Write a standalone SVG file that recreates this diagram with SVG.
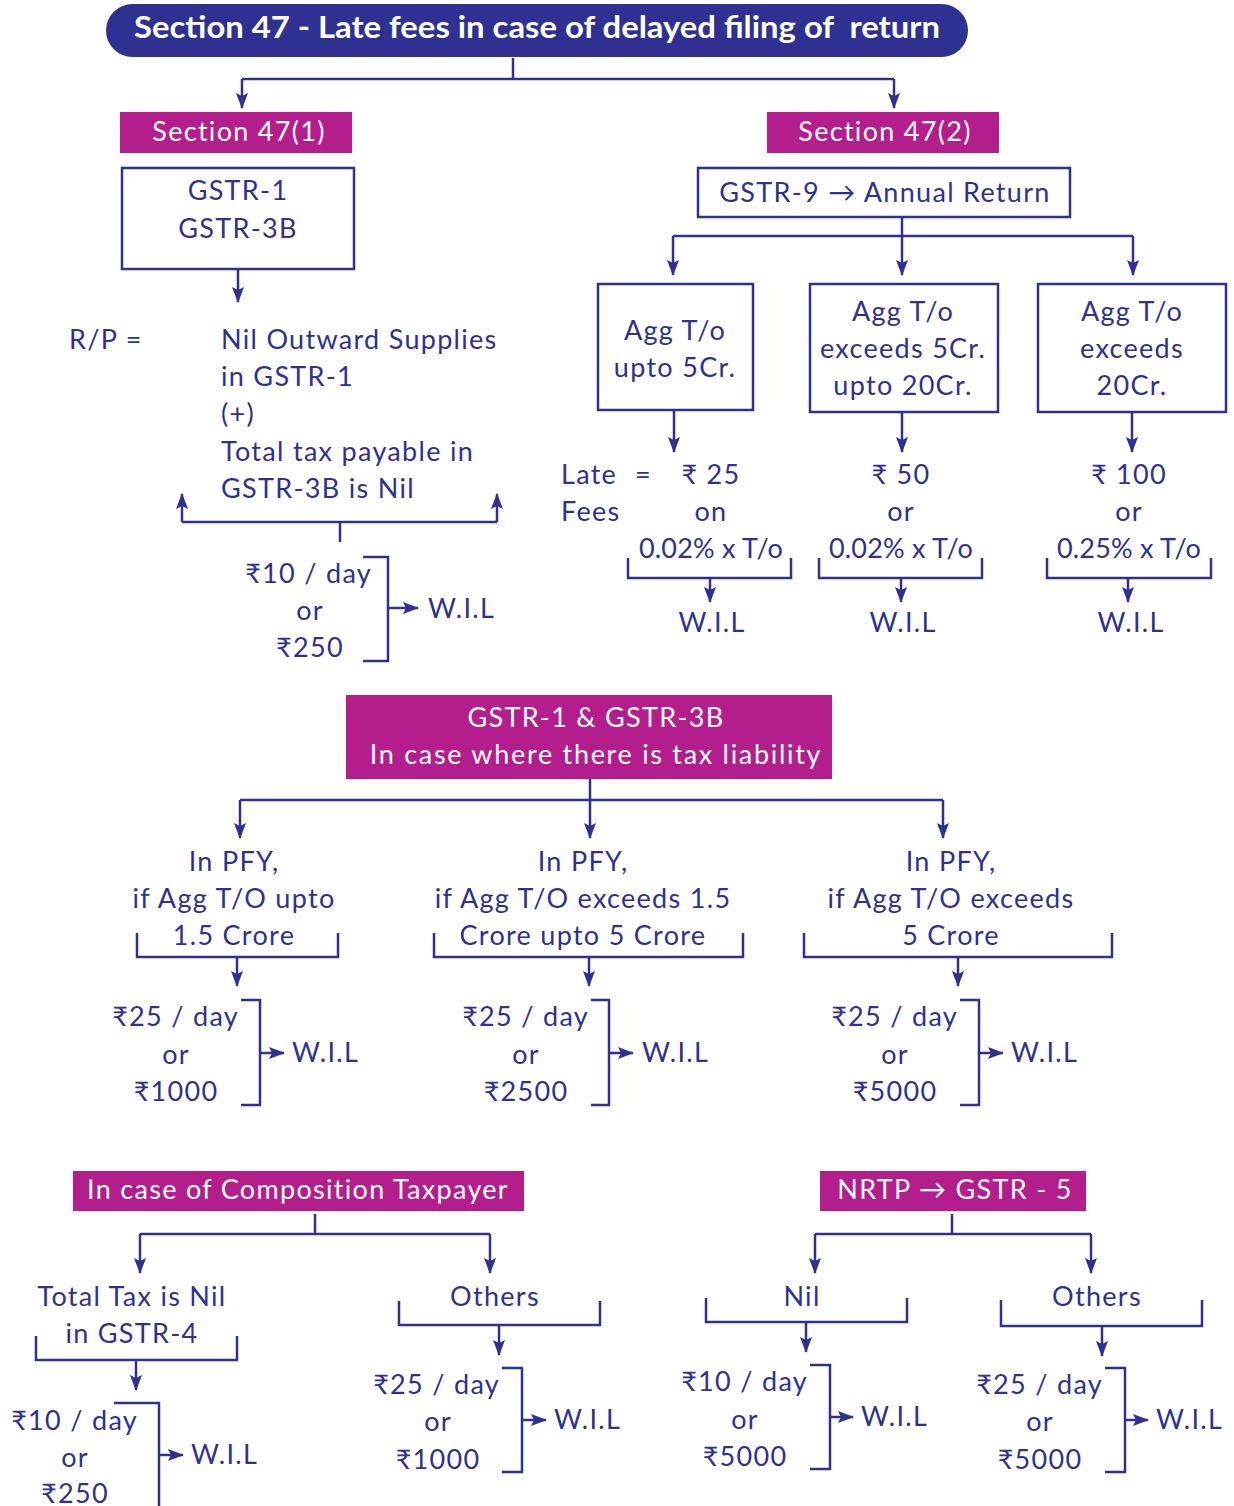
<svg xmlns="http://www.w3.org/2000/svg" width="1234" height="1506" viewBox="0 0 1234 1506">
  <defs>
    <style>
      .t { font-family: Lato, "Liberation Sans", "DejaVu Sans", sans-serif; font-size: 27px; fill: #2E3192; letter-spacing: 1.3px; }
      .w { font-family: Lato, "Liberation Sans", "DejaVu Sans", sans-serif; font-size: 27px; fill: #ffffff; letter-spacing: 1.3px; }
      .title { font-family: Lato, "Liberation Sans", "DejaVu Sans", sans-serif; font-size: 30px; font-weight: bold; fill: #ffffff; }
      .pct { letter-spacing: 0.2px; }
      .c { text-anchor: middle; }
      .r { text-anchor: end; }
      .box { fill: #ffffff; stroke: #2E3192; stroke-width: 2.5; }
      .mag { fill: #B41E8C; }
      .ln { fill: none; stroke: #2E3192; stroke-width: 2.5; }
      .ar { fill: none; stroke: #2E3192; stroke-width: 2.5; marker-end: url(#head); }
    </style>
    <marker id="head" markerUnits="userSpaceOnUse" markerWidth="16" markerHeight="12" viewBox="0 0 16 12" refX="15" refY="6" orient="auto">
      <path d="M0,0 L16,6 L0,12 L3,6 z" fill="#2E3192"/>
    </marker>
  </defs>

  <!-- Title -->
  <g id="title">
    <rect x="106" y="4" width="862" height="53" rx="26.5" fill="#2E3192"/>
    <text class="title c" x="537" y="38" textLength="806" lengthAdjust="spacingAndGlyphs" xml:space="preserve">Section 47 - Late fees in case of delayed filing of  return</text>
  </g>

  <!-- Section 47(1) -->
  <g id="sec47-1">
    <rect class="mag" x="120" y="112" width="232" height="41"/>
    <text class="w c" x="239" y="141">Section 47(1)</text>
  </g>
  <g id="gstr1-3b">
    <rect class="box" x="122" y="168" width="232" height="101"/>
    <text class="t c" x="238" y="200">GSTR-1</text>
    <text class="t c" x="238" y="238">GSTR-3B</text>
  </g>
  <g id="rp">
    <text class="t" x="69" y="349">R/P =</text>
    <text class="t" x="221" y="349">Nil Outward Supplies</text>
    <text class="t" x="221" y="386">in GSTR-1</text>
    <text class="t" x="221" y="423">(+)</text>
    <text class="t" x="221" y="461">Total tax payable in</text>
    <text class="t" x="221" y="498">GSTR-3B is Nil</text>
  </g>
  <g id="fee-47-1">
    <text class="t r" x="372" y="583">₹10 / day</text>
    <text class="t c" x="310" y="620">or</text>
    <text class="t c" x="310" y="657">₹250</text>
    <text class="t" x="428" y="618">W.I.L</text>
  </g>

  <!-- Section 47(2) -->
  <g id="sec47-2">
    <rect class="mag" x="767" y="112" width="232" height="41"/>
    <text class="w c" x="885" y="141">Section 47(2)</text>
  </g>
  <g id="gstr9">
    <rect class="box" x="698" y="168" width="372" height="49"/>
    <text class="t c" x="885" y="202">GSTR-9 → Annual Return</text>
  </g>
  <g id="agg-upto-5">
    <rect class="box" x="598" y="284" width="155" height="126"/>
    <text class="t c" x="675" y="340">Agg T/o</text>
    <text class="t c" x="675" y="377">upto 5Cr.</text>
  </g>
  <g id="agg-5-20">
    <rect class="box" x="810" y="284" width="188" height="128"/>
    <text class="t c" x="903" y="321">Agg T/o</text>
    <text class="t c" x="903" y="358">exceeds 5Cr.</text>
    <text class="t c" x="903" y="395">upto 20Cr.</text>
  </g>
  <g id="agg-20">
    <rect class="box" x="1038" y="284" width="188" height="128"/>
    <text class="t c" x="1132" y="321">Agg T/o</text>
    <text class="t c" x="1132" y="358">exceeds</text>
    <text class="t c" x="1132" y="395">20Cr.</text>
  </g>
  <g id="late-fees">
    <text class="t" x="561" y="484">Late</text>
    <text class="t" x="635" y="484">=</text>
    <text class="t" x="561" y="521">Fees</text>
  </g>
  <g id="fee-9a">
    <text class="t c" x="711" y="484">₹ 25</text>
    <text class="t c" x="711" y="521">on</text>
    <text class="t c pct" x="711" y="558">0.02% x T/o</text>
    <text class="t c" x="712" y="632">W.I.L</text>
  </g>
  <g id="fee-9b">
    <text class="t c" x="901" y="484">₹ 50</text>
    <text class="t c" x="901" y="521">or</text>
    <text class="t c pct" x="901" y="558">0.02% x T/o</text>
    <text class="t c" x="903" y="632">W.I.L</text>
  </g>
  <g id="fee-9c">
    <text class="t c" x="1129" y="484">₹ 100</text>
    <text class="t c" x="1129" y="521">or</text>
    <text class="t c pct" x="1129" y="558">0.25% x T/o</text>
    <text class="t c" x="1131" y="632">W.I.L</text>
  </g>

  <!-- Tax liability -->
  <g id="tax-liability">
    <rect class="mag" x="346" y="695" width="486" height="84"/>
    <text class="w c" x="596" y="727">GSTR-1 &amp; GSTR-3B</text>
    <text class="w c" x="596" y="764" style="letter-spacing:1.7px">In case where there is tax liability</text>
  </g>
  <g id="pfy-1">
    <text class="t c" x="234" y="871">In PFY,</text>
    <text class="t c" x="234" y="908">if Agg T/O upto</text>
    <text class="t c" x="234" y="945">1.5 Crore</text>
  </g>
  <g id="pfy-2">
    <text class="t c" x="583" y="871">In PFY,</text>
    <text class="t c" x="583" y="908">if Agg T/O exceeds 1.5</text>
    <text class="t c" x="583" y="945">Crore upto 5 Crore</text>
  </g>
  <g id="pfy-3">
    <text class="t c" x="951" y="871">In PFY,</text>
    <text class="t c" x="951" y="908">if Agg T/O exceeds</text>
    <text class="t c" x="951" y="945">5 Crore</text>
  </g>
  <g id="fee-pfy-1">
    <text class="t r" x="239" y="1026">₹25 / day</text>
    <text class="t c" x="176" y="1064">or</text>
    <text class="t c" x="176" y="1101">₹1000</text>
    <text class="t" x="292" y="1062">W.I.L</text>
  </g>
  <g id="fee-pfy-2">
    <text class="t r" x="589" y="1026">₹25 / day</text>
    <text class="t c" x="526" y="1064">or</text>
    <text class="t c" x="526" y="1101">₹2500</text>
    <text class="t" x="642" y="1062">W.I.L</text>
  </g>
  <g id="fee-pfy-3">
    <text class="t r" x="958" y="1026">₹25 / day</text>
    <text class="t c" x="895" y="1064">or</text>
    <text class="t c" x="895" y="1101">₹5000</text>
    <text class="t" x="1011" y="1062">W.I.L</text>
  </g>

  <!-- Composition taxpayer -->
  <g id="composition">
    <rect class="mag" x="73" y="1171" width="451" height="40"/>
    <text class="w c" x="298" y="1199">In case of Composition Taxpayer</text>
  </g>
  <g id="comp-nil">
    <text class="t c" x="132" y="1306">Total Tax is Nil</text>
    <text class="t c" x="132" y="1343">in GSTR-4</text>
  </g>
  <g id="comp-nil-fee">
    <text class="t r" x="138" y="1430">₹10 / day</text>
    <text class="t c" x="75" y="1467">or</text>
    <text class="t c" x="75" y="1503">₹250</text>
    <text class="t" x="191" y="1464">W.I.L</text>
  </g>
  <g id="comp-others">
    <text class="t c" x="495" y="1306">Others</text>
  </g>
  <g id="comp-others-fee">
    <text class="t r" x="500" y="1394">₹25 / day</text>
    <text class="t c" x="438" y="1431">or</text>
    <text class="t c" x="438" y="1469">₹1000</text>
    <text class="t" x="554" y="1429">W.I.L</text>
  </g>

  <!-- NRTP -->
  <g id="nrtp">
    <rect class="mag" x="820" y="1171" width="266" height="40"/>
    <text class="w c" x="955" y="1199">NRTP → GSTR - 5</text>
  </g>
  <g id="nrtp-nil">
    <text class="t c" x="802" y="1306">Nil</text>
  </g>
  <g id="nrtp-nil-fee">
    <text class="t r" x="808" y="1391">₹10 / day</text>
    <text class="t c" x="745" y="1429">or</text>
    <text class="t c" x="745" y="1466">₹5000</text>
    <text class="t" x="861" y="1426">W.I.L</text>
  </g>
  <g id="nrtp-others">
    <text class="t c" x="1097" y="1306">Others</text>
  </g>
  <g id="nrtp-others-fee">
    <text class="t r" x="1103" y="1394">₹25 / day</text>
    <text class="t c" x="1040" y="1431">or</text>
    <text class="t c" x="1040" y="1469">₹5000</text>
    <text class="t" x="1156" y="1429">W.I.L</text>
  </g>

  <!-- Connectors -->
  <g id="connectors">
    <!-- title split -->
    <path class="ln" d="M513,58 V79 M242,79 H894"/>
    <path class="ar" d="M242,79 V108"/>
    <path class="ar" d="M894,79 V108"/>

    <!-- 47(1) -->
    <path class="ar" d="M238,269 V302"/>
    <path class="ln" d="M182,522 H497 M340,522 V542"/>
    <path class="ar" d="M182,522 V494"/>
    <path class="ar" d="M497,522 V494"/>
    <path class="ln" d="M363,557 H388 V661 H363"/>
    <path class="ar" d="M388,608 H418"/>

    <!-- 47(2) -->
    <path class="ln" d="M902,217 V236 M673,236 H1133"/>
    <path class="ar" d="M673,236 V275"/>
    <path class="ar" d="M902,236 V275"/>
    <path class="ar" d="M1133,236 V275"/>
    <path class="ar" d="M674,410 V452"/>
    <path class="ar" d="M902,412 V452"/>
    <path class="ar" d="M1132,412 V452"/>
    <path class="ln" d="M628,558 V578 H791 V558"/>
    <path class="ar" d="M710,578 V602"/>
    <path class="ln" d="M819,558 V578 H982 V558"/>
    <path class="ar" d="M901,578 V602"/>
    <path class="ln" d="M1047,558 V578 H1211 V558"/>
    <path class="ar" d="M1128,578 V602"/>

    <!-- tax liability -->
    <path class="ln" d="M590,779 V800 M240,800 H943"/>
    <path class="ar" d="M240,800 V838"/>
    <path class="ar" d="M590,800 V838"/>
    <path class="ar" d="M943,800 V838"/>
    <path class="ln" d="M137,933 V957 H338 V933"/>
    <path class="ar" d="M237,957 V986"/>
    <path class="ln" d="M434,933 V957 H743 V933"/>
    <path class="ar" d="M589,957 V986"/>
    <path class="ln" d="M804,933 V957 H1112 V933"/>
    <path class="ar" d="M958,957 V986"/>
    <path class="ln" d="M241,1000 H260 V1105 H241"/>
    <path class="ar" d="M260,1053 H284"/>
    <path class="ln" d="M591,1000 H609 V1105 H591"/>
    <path class="ar" d="M609,1053 H633"/>
    <path class="ln" d="M960,1000 H979 V1105 H960"/>
    <path class="ar" d="M979,1053 H1003"/>

    <!-- composition -->
    <path class="ln" d="M315,1214 V1234 M140,1234 H490"/>
    <path class="ar" d="M140,1234 V1273"/>
    <path class="ar" d="M490,1234 V1273"/>
    <path class="ln" d="M36,1336 V1360 H237 V1336"/>
    <path class="ar" d="M136,1360 V1390"/>
    <path class="ln" d="M114,1403 H159 V1506"/>
    <path class="ar" d="M159,1455 H183"/>
    <path class="ln" d="M399,1301 V1325 H600 V1301"/>
    <path class="ar" d="M499,1325 V1355"/>
    <path class="ln" d="M502,1368 H522 V1472 H502"/>
    <path class="ar" d="M522,1420 H546"/>

    <!-- NRTP -->
    <path class="ln" d="M952,1214 V1234 M815,1234 H1091"/>
    <path class="ar" d="M815,1234 V1273"/>
    <path class="ar" d="M1091,1234 V1273"/>
    <path class="ln" d="M706,1298 V1322 H907 V1298"/>
    <path class="ar" d="M806,1322 V1352"/>
    <path class="ln" d="M810,1365 H830 V1469 H810"/>
    <path class="ar" d="M830,1417 H853"/>
    <path class="ln" d="M1001,1300 V1326 H1202 V1300"/>
    <path class="ar" d="M1102,1326 V1356"/>
    <path class="ln" d="M1105,1368 H1125 V1472 H1105"/>
    <path class="ar" d="M1125,1420 H1148"/>
  </g>
</svg>
